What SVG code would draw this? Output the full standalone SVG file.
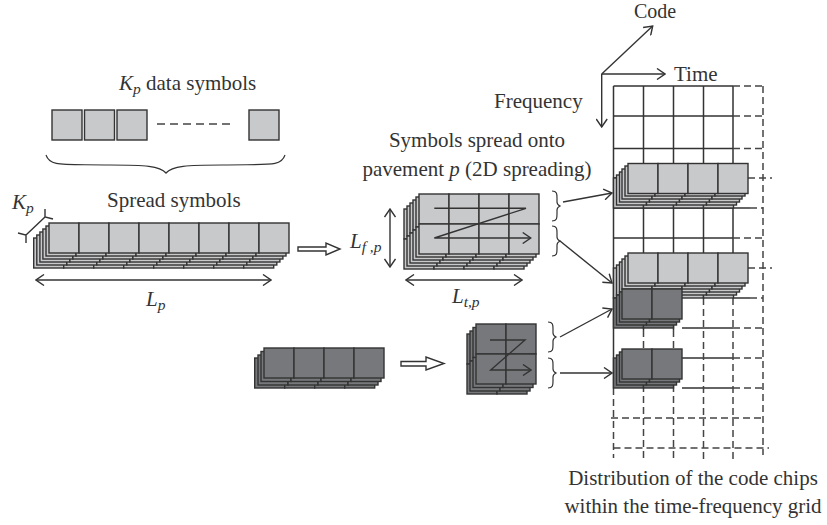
<svg xmlns="http://www.w3.org/2000/svg" width="827" height="525" viewBox="0 0 827 525">
<style>
text{font-family:"Liberation Serif","Times New Roman",serif;font-size:21px;fill:#333}
.i{font-style:italic}
.s{font-size:15.500px;font-style:italic}
.m{text-anchor:middle}
.ln{fill:none;stroke:#333;stroke-width:1.4}
.gd{fill:none;stroke:#333;stroke-width:1.5}
.dh{fill:none;stroke:#444;stroke-width:1.5;stroke-dasharray:7 4}
.cell{stroke:#333;stroke-width:1.4}
.lt{fill:#c8c9cb}
.dk{fill:#77787b}
.ar{fill:none;stroke:#333;stroke-width:1.4;marker-end:url(#a)}
.ar2{fill:none;stroke:#333;stroke-width:1.4;marker-start:url(#b);marker-end:url(#a)}
.blk{fill:#fff;stroke:#333;stroke-width:1.4}
</style>
<defs>
<marker id="a" viewBox="-11 -6 12 12" refX="0" refY="0" markerWidth="12" markerHeight="12" markerUnits="userSpaceOnUse" orient="auto"><path d="M-8,-5.500L0,0L-8,5.500" fill="none" stroke="#333" stroke-width="1.4"/></marker>
<marker id="b" viewBox="-1 -6 12 12" refX="0" refY="0" markerWidth="12" markerHeight="12" markerUnits="userSpaceOnUse" orient="auto"><path d="M8,-5.500L0,0L8,5.500" fill="none" stroke="#333" stroke-width="1.4"/></marker>
<g id="c2"><rect class="cell" width="30" height="30"/><rect class="cell" x="30" width="30" height="30"/></g>
<g id="c4"><use href="#c2"/><use href="#c2" x="60"/></g>
<g id="c8"><use href="#c4"/><use href="#c4" x="120"/></g>
<g id="p2"><use href="#c2"/><use href="#c2" y="30"/></g>
<g id="p4"><use href="#c4"/><use href="#c4" y="30"/></g>
<path id="brace" d="M0,0C5,0 5,3 5,7V11C5,13 6,14 8,15C6,16 5,17 5,19V23C5,27 5,30 0,30" fill="none" stroke="#333" stroke-width="1.2"/>
</defs>

<g id="grid">
<path class="gd" d="M613.5,86H733M613.5,116H733M613.5,148.500H733M613.500,178H733M613.500,208H750M613.500,238H733M733,298H750M682,328H733M682,358H733M682,388H733"/>
<path class="gd" d="M613.500,86V388M643.500,86V330M673.500,86V330M703.500,86V298M733,86V298"/>
<path class="dh" d="M733,86H763M733,116H763M733,148.500H763M750,208H763M733,238H763M750,298H763M733,328H763M733,358H763M733,388H763M748,178H772M748,268H772M611,418H762M613.500,448H769"/>
<path class="dh" d="M763,86V455M613.500,388V458M643.500,330V460M673.500,330V462M703.500,298V460M733,298V460"/>
</g>

<g id="data-symbols">
<rect class="cell lt" x="52" y="110" width="30" height="30"/>
<rect class="cell lt" x="84.500" y="110" width="30" height="30"/>
<rect class="cell lt" x="117" y="110" width="30" height="30"/>
<path class="dh" d="M157,124H232" style="stroke-dasharray:8 5"/>
<rect class="cell lt" x="249" y="110" width="30" height="30"/>
<path d="M46,155C50,167 62,164 110,165C145,165 160,166 166,173C172,166 187,165 222,165C270,164 281,167 285,155" fill="none" stroke="#333" stroke-width="1.2"/>
<text x="119" y="90"><tspan class="i">K</tspan><tspan class="s" dy="4">p</tspan><tspan dy="-4"> data symbols</tspan></text>
</g>

<g id="spread-symbols">
<g class="lt">
<use href="#c8" x="33.700" y="238"/><use href="#c8" x="36.800" y="235"/><use href="#c8" x="39.900" y="232"/><use href="#c8" x="42.900" y="229"/><use href="#c8" x="46" y="226"/><use href="#c8" x="49" y="223"/>
</g>
<text x="107" y="207">Spread symbols</text>
<text x="12" y="209"><tspan class="i">K</tspan><tspan class="s" dy="4">p</tspan></text>
<path class="ln" d="M26,235L45,217M18,233L26,235L26,243M45,209L45,217L53,219"/>
<path class="ar2" d="M36,280H271"/>
<text x="146" y="306"><tspan class="i">L</tspan><tspan class="s" dy="4">p</tspan></text>
</g>

<g id="pavement-light">
<g class="lt">
<use href="#p4" x="404" y="209"/><use href="#p4" x="407" y="206"/><use href="#p4" x="410" y="203"/><use href="#p4" x="413" y="200"/><use href="#p4" x="416" y="197"/><use href="#p4" x="419" y="194"/>
</g>
<path class="ar" d="M434.300,208.300H526L434.300,238H530.700"/>
<text class="m" x="477" y="147">Symbols spread onto</text>
<text class="m" x="477" y="176">pavement <tspan class="i">p</tspan> (2D spreading)</text>
<path class="ar2" d="M390,209V267"/>
<path class="ar2" d="M406,280H522"/>
<text x="350" y="248"><tspan class="i">L</tspan><tspan class="s" dy="4">f ,p</tspan></text>
<text x="452" y="303"><tspan class="i">L</tspan><tspan class="s" dy="4">t,p</tspan></text>
<use href="#brace" x="552" y="191"/>
<use href="#brace" x="552" y="226"/>
</g>

<g id="stack-dark">
<g class="dk">
<use href="#c4" x="254.700" y="358"/><use href="#c4" x="258" y="355"/><use href="#c4" x="261" y="351.500"/><use href="#c4" x="264" y="348"/>
</g>
</g>

<g id="pavement-dark">
<g class="dk">
<use href="#p2" x="467" y="334"/><use href="#p2" x="470" y="331"/><use href="#p2" x="473" y="327.500"/><use href="#p2" x="476" y="324"/>
</g>
<path class="ar" d="M490,340H525L490.700,370H531"/>
<use href="#brace" x="548" y="322"/>
<use href="#brace" x="548" y="358"/>
</g>

<g id="grid-block-1" class="lt">
<use href="#c4" x="613.500" y="178"/><use href="#c4" x="616.500" y="175"/><use href="#c4" x="619.500" y="172"/><use href="#c4" x="622" y="169"/><use href="#c4" x="625" y="166"/><use href="#c4" x="628" y="163.500"/>
</g>
<g id="grid-block-2" class="lt">
<use href="#c4" x="613.500" y="268"/><use href="#c4" x="616.500" y="265"/><use href="#c4" x="619.500" y="262"/><use href="#c4" x="622" y="259"/><use href="#c4" x="625" y="256"/><use href="#c4" x="628" y="253"/>
</g>
<g id="grid-block-3" class="dk">
<use href="#c2" x="613.500" y="298"/><use href="#c2" x="616.500" y="295"/><use href="#c2" x="619.500" y="292"/><use href="#c2" x="622" y="289"/>
</g>
<g id="grid-block-4" class="dk">
<use href="#c2" x="613.500" y="358"/><use href="#c2" x="616.500" y="355"/><use href="#c2" x="619.500" y="352"/><use href="#c2" x="622" y="349"/>
</g>

<g id="block-arrows">
<path class="blk" d="M298,247H326V243L340,249L326,255V251H298Z"/>
<path class="blk" d="M401,361.500H426V357L444,363.500L426,370V366H401Z"/>
</g>

<g id="connectors">
<path class="ar" d="M563,202L612,193"/>
<path class="ar" d="M560,241L612,283"/>
<path class="ar" d="M560,337L612,309"/>
<path class="ar" d="M560,373H612"/>
</g>

<g id="axes">
<path class="ar" d="M601.700,74H665"/>
<path class="ar" d="M601.700,74L652.700,26"/>
<path class="ar" d="M601.700,74V127"/>
<text x="634" y="18" style="font-size:20px">Code</text>
<text x="674" y="81">Time</text>
<text x="494" y="108">Frequency</text>
</g>

<g id="caption">
<text class="m" x="693" y="485">Distribution of the code chips</text>
<text class="m" x="693" y="513">within the time-frequency grid</text>
</g>
</svg>
